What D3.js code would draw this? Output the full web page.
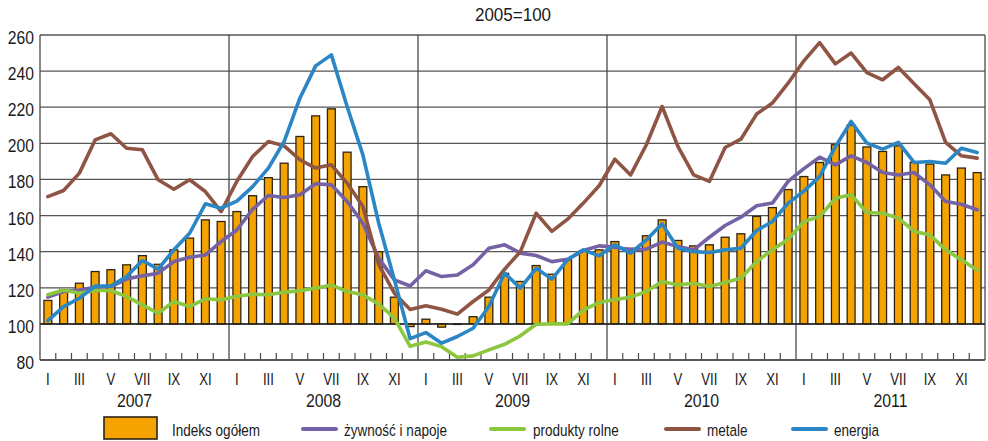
<!DOCTYPE html>
<html>
<head>
<meta charset="utf-8">
<script src="https://cdn.jsdelivr.net/npm/d3@7"></script>
<style>
  html, body { margin: 0; padding: 0; background: #fff; }
  svg text { font-family: "Liberation Sans", Arial, "Helvetica Neue", sans-serif; fill: #1a1a1a; }
</style>
</head>
<body>
<svg id="chart" width="988" height="441"></svg>
<script>
// Commodity price indices, monthly 2007–2011 (2005 = 100)
const years = ["2007", "2008", "2009", "2010", "2011"];
const monthLabels = ["I", "II", "III", "IV", "V", "VI", "VII", "VIII", "IX", "X", "XI", "XII"];
const yTicks = [80, 100, 120, 140, 160, 180, 200, 220, 240, 260];

const indeksOgolem = [
  113, 119, 122.5, 129, 130, 132.7, 137.8, 133, 141, 147.5, 157.6, 156.7,
  162.2, 171, 181, 189, 203.8, 215.2, 219.1, 195.1, 176, 140, 114.8, 98.5,
  102.6, 98.2, 99.7, 104, 114.8, 128, 123.5, 132.3, 127.5, 135.5, 140.6, 141,
  145.6, 141.9, 148.8, 157.6, 146.2, 143.2, 143.8, 148, 149.9, 159.5, 164.4, 174.4,
  181.6, 189.4, 199.2, 210, 198, 195.5, 198.6, 189.5, 188.5, 182.5, 186.3, 183.8
];
const zywnosc = [
  114.8, 117.9, 118.8, 120.3, 120.7, 124.8, 126.6, 128.1, 134.5, 136.9, 138.2, 145.6,
  152, 163.5, 171.1, 170, 171.5, 177.6, 177, 167.8, 155.8, 136.4, 124.4, 121,
  129.4, 126.2, 127.1, 132.7, 141.9, 143.8, 139.2, 137.9, 134.5, 135.8, 140.6, 143.2,
  142.5, 141, 141.4, 145.3, 142.8, 141, 148, 154.5, 159.1, 165.4, 166.9, 178.9,
  186, 192.3, 188.1, 193.1, 189.4, 183.8, 182.5, 183.8, 177, 167.8, 166.3, 163.2
];
const produktyRolne = [
  116.1, 118.8, 117, 118.5, 118.5, 115.1, 110.5, 105.9, 112.4, 109.6, 113.9, 113.3,
  115.3, 116.4, 116.1, 117.6, 118.3, 119.8, 121.6, 117.9, 116.1, 111.1, 103.2, 87.6,
  90, 87.4, 81.5, 82.3, 85.6, 88.7, 93.4, 99.8, 100, 100, 107.8, 111.8,
  113.5, 114.8, 117.9, 123.5, 121.6, 122.5, 120.7, 122.9, 125.3, 134.5, 141, 146.9,
  156.7, 159.4, 169.6, 171.5, 161.7, 161.3, 158.6, 151.2, 149.3, 141, 135.5, 129.9
];
const metale = [
  170.5, 173.9, 183.5, 201.9, 205.3, 197.3, 196.4, 179.8, 174.6, 179.8, 173.3, 162.2,
  179, 192.7, 201, 198.6, 190.9, 186.3, 188.1, 178, 165, 133, 117, 108,
  110, 108.1, 105.4, 112.4, 118.8, 130.3, 140, 161.3, 151.2, 158, 166.9, 176.5,
  191.2, 182.5, 199.2, 220.4, 198.3, 182.5, 178.9, 197.7, 202.3, 216.2, 222.3, 233.3,
  245.7, 255.8, 244, 250, 239.2, 235.2, 242, 233, 224.1, 200.5, 193.1, 191.8
];
const energia = [
  101.8, 109.6, 114.2, 121, 121, 126.2, 135.1, 130.3, 141, 150.2, 166.5, 164.1,
  168, 176, 186.3, 201, 225, 242.9, 249, 220.4, 193.6, 156, 124.4, 91.8,
  95.2, 89.3, 93, 97.6, 109.6, 128.1, 119.8, 130.8, 124.8, 135.5, 141, 137.7,
  143.8, 139.2, 146.5, 155.4, 141.9, 140, 139.5, 141, 141.9, 151.7, 156.7, 166.9,
  173.5, 181.6, 198.2, 212.1, 200.1, 196.8, 200.5, 189.4, 189.9, 189, 197.3, 194.9
];

const lineSeries = [
  { name: "żywność i napoje", values: zywnosc, color: "#7561a5" },
  { name: "produkty rolne", values: produktyRolne, color: "#8dc63f" },
  { name: "metale", values: metale, color: "#8e5444" },
  { name: "energia", values: energia, color: "#2a86c4" }
];
const barColor = "#f4a300";

const svg = d3.select("#chart");
const plotLeft = 40, plotRight = 985, plotTop = 35, plotBottom = 360;

const months = d3.range(years.length * 12);
const x = d3.scaleBand().domain(months).range([plotLeft, plotRight]).padding(0);
const y = d3.scaleLinear().domain([80, 260]).range([plotBottom, plotTop]);
const bw = x.bandwidth();
const cx = i => x(i) + bw / 2;
const edge = i => (i < months.length ? x(i) : plotRight);

// condensed-looking text: horizontal squeeze around the anchor point
function label(g, px, py, size, sx, anchor, str) {
  return g.append("text")
    .attr("transform", `translate(${px},${py}) scale(${sx},1)`)
    .attr("text-anchor", anchor)
    .attr("font-size", size)
    .text(str);
}

// horizontal gridlines
svg.append("g").selectAll("line").data(yTicks).join("line")
  .attr("x1", plotLeft).attr("x2", plotRight)
  .attr("y1", d => y(d)).attr("y2", d => y(d))
  .attr("stroke", "#555").attr("stroke-width", 1.3);

// year separators and plot frame sides
const seps = d3.range(0, years.length + 1).map(k => k * 12);
svg.append("g").selectAll("line").data(seps).join("line")
  .attr("x1", d => edge(d)).attr("x2", d => edge(d))
  .attr("y1", plotTop).attr("y2", plotBottom)
  .attr("stroke", "#4a4a4a").attr("stroke-width", 1.3);

// month ticks along the bottom
svg.append("g").selectAll("line").data(months.filter(i => i % 12 !== 0)).join("line")
  .attr("x1", d => x(d)).attr("x2", d => x(d))
  .attr("y1", plotBottom - 7).attr("y2", plotBottom)
  .attr("stroke", "#4a4a4a").attr("stroke-width", 1.2);

// bars from the 100 baseline
const base = y(100);
svg.append("g").selectAll("rect").data(indeksOgolem).join("rect")
  .attr("x", (d, i) => cx(i) - bw * 0.25)
  .attr("width", bw * 0.5)
  .attr("y", d => Math.min(y(d), base))
  .attr("height", d => Math.abs(y(d) - base))
  .attr("fill", barColor)
  .attr("stroke", "#2e2410").attr("stroke-width", 1.3);

// baseline at 100
svg.append("line")
  .attr("x1", plotLeft).attr("x2", plotRight).attr("y1", base).attr("y2", base)
  .attr("stroke", "#222").attr("stroke-width", 1.5);

// series lines
const line = d3.line().x((d, i) => cx(i)).y(d => y(d)).curve(d3.curveLinear);
svg.append("g").selectAll("path").data(lineSeries).join("path")
  .attr("d", d => line(d.values))
  .attr("fill", "none")
  .attr("stroke", d => d.color)
  .attr("stroke-width", 3.6)
  .attr("stroke-linejoin", "round")
  .attr("stroke-linecap", "round");

// bottom axis line
svg.append("line")
  .attr("x1", plotLeft).attr("x2", plotRight).attr("y1", plotBottom).attr("y2", plotBottom)
  .attr("stroke", "#4a4a4a").attr("stroke-width", 1.4);

// y axis labels
const gy = svg.append("g");
yTicks.forEach(v => label(gy, 34, y(v) + 9, 18.5, 0.85, "end", v));

// month labels (every second month)
const gm = svg.append("g");
months.filter(i => i % 2 === 0).forEach(i => label(gm, cx(i), 385, 16.5, 0.8, "middle", monthLabels[i % 12]));

// year labels
const gyr = svg.append("g");
years.forEach((yr, k) => label(gyr, (edge(k * 12) + edge(k * 12 + 12)) / 2, 407, 18, 0.88, "middle", yr));

// title
label(svg, 513, 21, 18.5, 0.92, "middle", "2005=100");

// legend
const lg = svg.append("g");
lg.append("rect")
  .attr("x", 104).attr("y", 417).attr("width", 53).attr("height", 22)
  .attr("fill", barColor).attr("stroke", "#2e2410").attr("stroke-width", 1.6);
label(lg, 172, 436, 16.5, 0.82, "start", "Indeks ogółem");
const legendPos = [
  { x: 303, tx: 344 },
  { x: 491, tx: 533 },
  { x: 666, tx: 707 },
  { x: 793, tx: 834 }
];
lineSeries.forEach((s, k) => {
  lg.append("line")
    .attr("x1", legendPos[k].x).attr("x2", legendPos[k].x + 33)
    .attr("y1", 429).attr("y2", 429)
    .attr("stroke", s.color).attr("stroke-width", 4).attr("stroke-linecap", "round");
  label(lg, legendPos[k].tx, 436, 16.5, 0.82, "start", s.name);
});
</script>
</body>
</html>
